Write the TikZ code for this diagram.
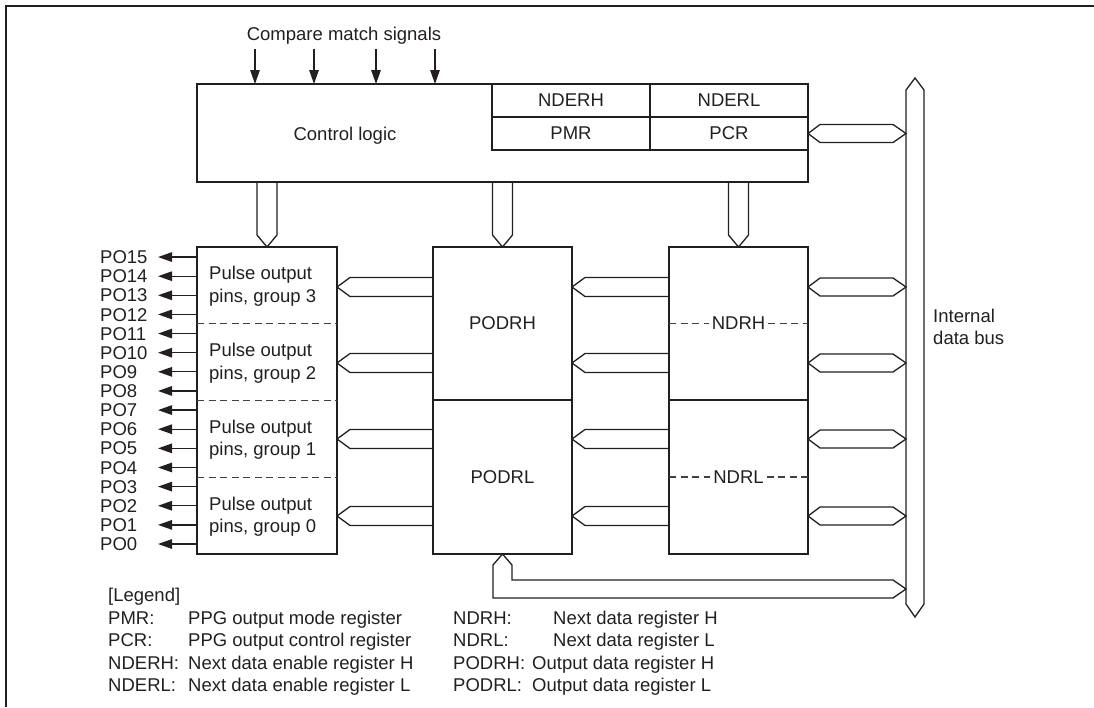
\documentclass[tikz,border=0pt]{standalone}
\usepackage{fontspec}
\setmainfont{Liberation Sans}
\usepackage{tikz}
\usetikzlibrary{calc,positioning,arrows.meta}
\definecolor{ppgink}{HTML}{231F20}
\definecolor{ppgdash}{HTML}{414042}
% bus shapes: flat end / pointed end(s)
\newcommand{\busleft}[2]{%
  \draw[bus] ($(#1)+(0,-9.5)$) -- ($(#2)+(13,-9.5)$) -- (#2)
    -- ($(#2)+(13,9.5)$) -- ($(#1)+(0,9.5)$);
}
\newcommand{\busboth}[2]{%
  \draw[bus] (#1) -- ($(#1)+(12,-9)$) -- ($(#2)+(-13,-9)$) -- (#2)
    -- ($(#2)+(-13,9)$) -- ($(#1)+(12,9)$) -- cycle;
}
\newcommand{\busdown}[2]{%
  \draw[bus] ($(#1)+(-10,0)$) -- ($(#2)+(-10,-12)$) -- (#2)
    -- ($(#2)+(10,-12)$) -- ($(#1)+(10,0)$);
}

\begin{document}
\begin{tikzpicture}[x=1pt, y=-1pt, font=\fontsize{18.5}{22.5}\selectfont, text=ppgink,
  box/.style={draw=ppgink, line width=2.4pt, inner sep=0pt, outer sep=0pt},
  bus/.style={draw=ppgink, line width=1.3pt, line join=miter},
  sig/.style={draw=ppgink, line width=1.3pt, -{Triangle[length=14pt,width=9.5pt]}},
  divider/.style={draw=ppgdash, line width=1.3pt, dash pattern=on 7pt off 4.5pt},
  lbl/.style={inner sep=0pt, anchor=west, align=left},
  txt/.style={lbl, text height=13.2pt, text depth=0pt}]
  \useasboundingbox (0,0) rectangle (1094,707);
  % frame
  \draw[ppgink, line width=2.6pt] (6,707) -- (6,6) -- (1094,6);
  % control logic and registers
  \node[box, minimum width=611pt, minimum height=98pt] (ctrl) at (502.5,133) {};
  \node[anchor=base] (ctrllbl) at (345,140) {Control logic};
  \node[box, minimum width=158pt, minimum height=33pt] (nderh) at (571,100.5) {NDERH};
  \node[box, minimum width=158pt, minimum height=33pt] (nderl) at (729,100.5) {NDERL};
  \node[box, minimum width=158pt, minimum height=33pt] (pmr) at (571,133.5) {PMR};
  \node[box, minimum width=158pt, minimum height=33pt] (pcr) at (729,133.5) {PCR};
  % compare match signals
  \node[anchor=base] (cms) at (344,40) {Compare match signals};
  \foreach \x [count=\i] in {255,314,376,435}{
    \coordinate (cm\i) at (\x,49);
    \draw[sig] (cm\i) -- (cm\i |- ctrl.north);
  }
  % pulse output pins
  \node[box, minimum width=140pt, minimum height=307pt] (pins) at (267,400.5) {};
  \foreach \f in {0.25,0.5,0.75}
    \draw[divider] ($(pins.north west)!\f!(pins.south west)$) -- ($(pins.north east)!\f!(pins.south east)$);
  \foreach \g/\f in {3/0.125,2/0.375,1/0.625,0/0.875}
    \node[lbl] (grp\g) at ($(pins.north west)!\f!(pins.south west)+(12,1)$) {Pulse output\\pins, group \g};
  % output data and next data registers
  \node[box, minimum width=139pt, minimum height=153pt] (podrh) at (502.5,323.5) {PODRH};
  \node[box, minimum width=139pt, minimum height=154pt, below=0pt of podrh] (podrl) {PODRL};
  \node[box, minimum width=139pt, minimum height=153pt] (ndrh) at (738.5,323.5) {};
  \node[box, minimum width=139pt, minimum height=154pt, below=0pt of ndrh] (ndrl) {};
  \node[inner sep=3pt] (ndrhlbl) at (ndrh) {NDRH};
  \node[inner sep=3pt] (ndrllbl) at (ndrl) {NDRL};
  \draw[divider] (ndrh.west) -- (ndrhlbl.west) (ndrhlbl.east) -- (ndrh.east);
  \draw[divider] (ndrl.west) -- (ndrllbl.west) (ndrllbl.east) -- (ndrl.east);
  % internal data bus
  \coordinate (bustop) at (915,78);
  \coordinate (busbot) at (915,617);
  \coordinate (busl) at (906,300);
  \draw[bus] (bustop) -- ($(bustop)+(9,12)$) -- ($(busbot)+(9,-13)$) -- (busbot)
    -- ($(busbot)+(-9,-13)$) -- ($(bustop)+(-9,12)$) -- cycle;
  \node[lbl] (buslbl) at (933,327) {Internal\\data bus};
  % buses from control logic
  \busdown{pins.north |- ctrl.south}{pins.north}
  \busdown{podrh.north |- ctrl.south}{podrh.north}
  \busdown{ndrh.north |- ctrl.south}{ndrh.north}
  \busboth{pcr.east}{busl |- pcr.east}
  % data paths, one per pin group
  \foreach \r/\y in {3/287,2/363,1/439,0/516}
    \coordinate (row\r) at (0,\y);
  \foreach \r/\pp/\nn in {3/podrh/ndrh,2/podrh/ndrh,1/podrl/ndrl,0/podrl/ndrl}{
    \busleft{\nn.west |- row\r}{\pp.east |- row\r}
    \busleft{\pp.west |- row\r}{pins.east |- row\r}
    \busboth{\nn.east |- row\r}{busl |- row\r}
  }
  % read back path
  \coordinate (row9) at (0,589);
  \draw[bus] (podrl.south) -- ($(podrl.south)+(9.5,11)$) |- ($(busl |- row9)+(-13,-9)$)
    -- (busl |- row9) -- ($(busl |- row9)+(-13,9)$) -| ($(podrl.south)+(-9.5,11)$) -- cycle;
  % pins PO0..PO15
  \foreach \i in {0,...,15}{
    \pgfmathsetmacro{\py}{544-19.13*\i}
    \node[txt] (pol\i) at (100,\py) {PO\i};
    \coordinate (po\i) at (158,\py);
    \draw[sig] (pins.west |- po\i) -- (po\i);
  }
  % legend
  \node[txt] (legend) at (108,595) {[Legend]};
  \foreach \lk/\ld [count=\j] in {PMR:/PPG output mode register,PCR:/PPG output control register,NDERH:/Next data enable register H,NDERL:/Next data enable register L}{
    \pgfmathsetmacro{\ly}{595+22.5*\j}
    \node[txt] (lka\j) at (108,\ly) {\lk};
    \node[txt] (lda\j) at (188,\ly) {\ld};
  }
  \foreach \lk/\ld/\lx [count=\j] in {NDRH:/Next data register H/553,NDRL:/Next data register L/553,PODRH:/Output data register H/532,PODRL:/Output data register L/532}{
    \pgfmathsetmacro{\ly}{595+22.5*\j}
    \node[txt] (lkb\j) at (453,\ly) {\lk};
    \node[txt] (ldb\j) at (\lx,\ly) {\ld};
  }
\end{tikzpicture}
\end{document}
